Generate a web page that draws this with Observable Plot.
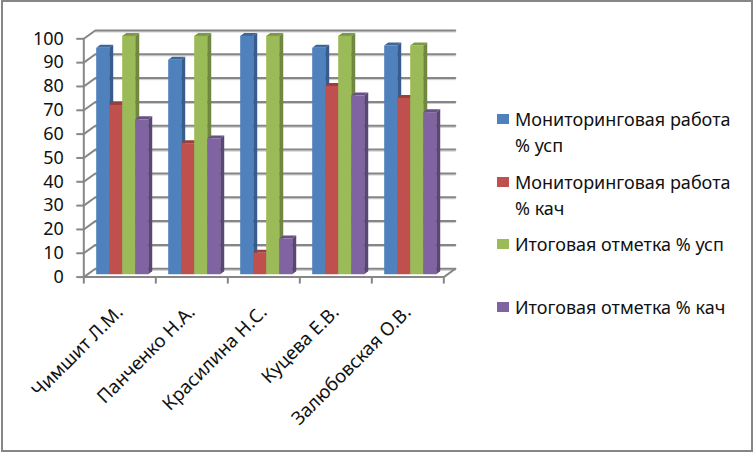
<!DOCTYPE html>
<html lang="ru">
<head>
<meta charset="utf-8">
<script src="https://cdn.jsdelivr.net/npm/d3@7"></script>
<script src="https://cdn.jsdelivr.net/npm/@observablehq/plot@0.6"></script>
<style>
html,body{margin:0;padding:0;background:#fff;}
#wrap{position:relative;width:753px;height:452px;overflow:hidden;font-family:"Noto Sans",sans-serif;}
#wrap svg{position:absolute;left:0;top:0;}
#frame{position:absolute;left:1px;top:0;width:752px;height:452px;box-sizing:border-box;border:2px solid #868686;pointer-events:none;}
.lg{position:absolute;left:497px;color:#111;font-size:18px;line-height:25.5px;white-space:nowrap;}
.lg i{position:absolute;left:0;top:7px;width:12px;height:10px;}
.lg span{position:absolute;left:18px;top:0;}
</style>
</head>
<body>
<div id="wrap"><div id="frame"></div></div>
<script>
const teachers = ["Чимшит Л.М.", "Панченко Н.А.", "Красилина Н.С.", "Куцева Е.В.", "Залюбовская О.В."];
const seriesNames = ["Мониторинговая работа % усп", "Мониторинговая работа % кач", "Итоговая отметка % усп", "Итоговая отметка % кач"];
const monitorUsp = [95, 90, 100, 95, 96];
const monitorKach = [71, 55, 9, 79, 74];
const finalUsp = [100, 100, 100, 100, 96];
const finalKach = [65, 57, 15, 75, 68];
const yTicks = [0, 10, 20, 30, 40, 50, 60, 70, 80, 90, 100];
const front = ["#4F81BD", "#C0504D", "#9BBB59", "#8064A2"];
const side = ["#385D8A", "#8C3A38", "#6F8740", "#5A4675"];
const topFace = ["#3F689A", "#9A3F3C", "#7D9847", "#675083"];

const seriesValues = [monitorUsp, monitorKach, finalUsp, finalKach];
const GRID = "#868686";
// Depth of the box and of the bars, in data units of the two scales
const wallX = 0.16, wallY = 3.5;      // back wall offset
const planeX = 0.04, planeY = 1.0;    // front plane of the bars
const depthX = 0.056, depthY = 1.25;  // bar depth
const barW = 0.1806, pad = 0.139;

const marks = [];
// back wall grid
const gridRows = yTicks.flatMap(v => [
  {k: v, x: 0, y: v},
  {k: v, x: wallX, y: v + wallY},
  {k: v, x: 5 + wallX, y: v + wallY}
]);
marks.push(Plot.line(gridRows.filter(d => d.x > 0), {x: "x", y: "y", z: "k", stroke: "#c9c9c9", strokeWidth: 1, dy: 1.5}));
marks.push(Plot.line(gridRows, {x: "x", y: "y", z: "k", stroke: GRID, strokeWidth: 2}));
// floor right edge
marks.push(Plot.line([{x: 5, y: 0}, {x: 5 + wallX, y: wallY}], {x: "x", y: "y", stroke: GRID, strokeWidth: 2}));

// bars, back-to-front painter order, series by series
seriesValues.forEach((vals, s) => {
  const rows = vals.map((v, i) => {
    const l = i + pad + s * barW + planeX;
    return {i, v, l, r: l + barW};
  });
  const sideRows = rows.flatMap(d => [
    {k: d.i, x: d.r, y1: planeY, y2: d.v + planeY},
    {k: d.i, x: d.r + depthX, y1: planeY + depthY, y2: d.v + planeY + depthY}
  ]);
  const topRows = rows.flatMap(d => [
    {k: d.i, y: d.v + planeY, x1: d.l, x2: d.r},
    {k: d.i, y: d.v + planeY + depthY, x1: d.l + depthX, x2: d.r + depthX}
  ]);
  marks.push(Plot.areaY(sideRows, {x: "x", y1: "y1", y2: "y2", z: "k", fill: side[s]}));
  marks.push(Plot.areaX(topRows, {y: "y", x1: "x1", x2: "x2", z: "k", fill: topFace[s]}));
  marks.push(Plot.rect(rows, {x1: "l", x2: "r", y1: planeY, y2: d => d.v + planeY, fill: front[s]}));
});

// front axes
marks.push(Plot.ruleX([0], {y1: 0, y2: 100, stroke: GRID, strokeWidth: 2}));
marks.push(Plot.ruleY([0], {x1: 0, x2: 5, stroke: GRID, strokeWidth: 2}));
marks.push(Plot.axisY({
  ticks: yTicks, tickFormat: d => d, label: null, anchor: "left",
  tickSize: 7, tickPadding: 13, stroke: GRID, strokeWidth: 2,
  fontSize: 18, fill: "#111"
}));
marks.push(Plot.axisX({
  ticks: d3.range(teachers.length + 1), tickFormat: () => "", label: null, anchor: "bottom",
  tickSize: 7, stroke: GRID, strokeWidth: 2
}));
marks.push(Plot.text(teachers, {
  x: (d, i) => i + 0.5, y: 0, text: d => d, rotate: -45, textAnchor: "end",
  dx: 0, dy: 32, fontSize: 18.6, fill: "#111", lineAnchor: "middle"
}));

const chart = Plot.plot({
  width: 753, height: 452,
  marginLeft: 83.3, marginRight: 309.7, marginTop: 38.3, marginBottom: 175.4,
  style: {background: "transparent", fontFamily: '"Noto Sans",sans-serif', overflow: "visible"},
  x: {type: "linear", domain: [0, 5]},
  y: {type: "linear", domain: [0, 100]},
  marks
});
const wrap = document.getElementById("wrap");
wrap.insertBefore(chart, wrap.firstChild);

// legend
const legendLayout = [
  {top: 107, lines: ["Мониторинговая работа", "% усп"]},
  {top: 170, lines: ["Мониторинговая работа", "% кач"]},
  {top: 232, lines: ["Итоговая отметка % усп"]},
  {top: 295, lines: ["Итоговая отметка % кач"]}
];
legendLayout.forEach((row, s) => {
  const d = document.createElement("div");
  d.className = "lg";
  d.style.top = row.top + "px";
  const sw = document.createElement("i");
  sw.style.background = front[s];
  d.appendChild(sw);
  const sp = document.createElement("span");
  sp.innerHTML = row.lines.join("<br>");
  d.appendChild(sp);
  wrap.appendChild(d);
});
</script>
</body>
</html>
